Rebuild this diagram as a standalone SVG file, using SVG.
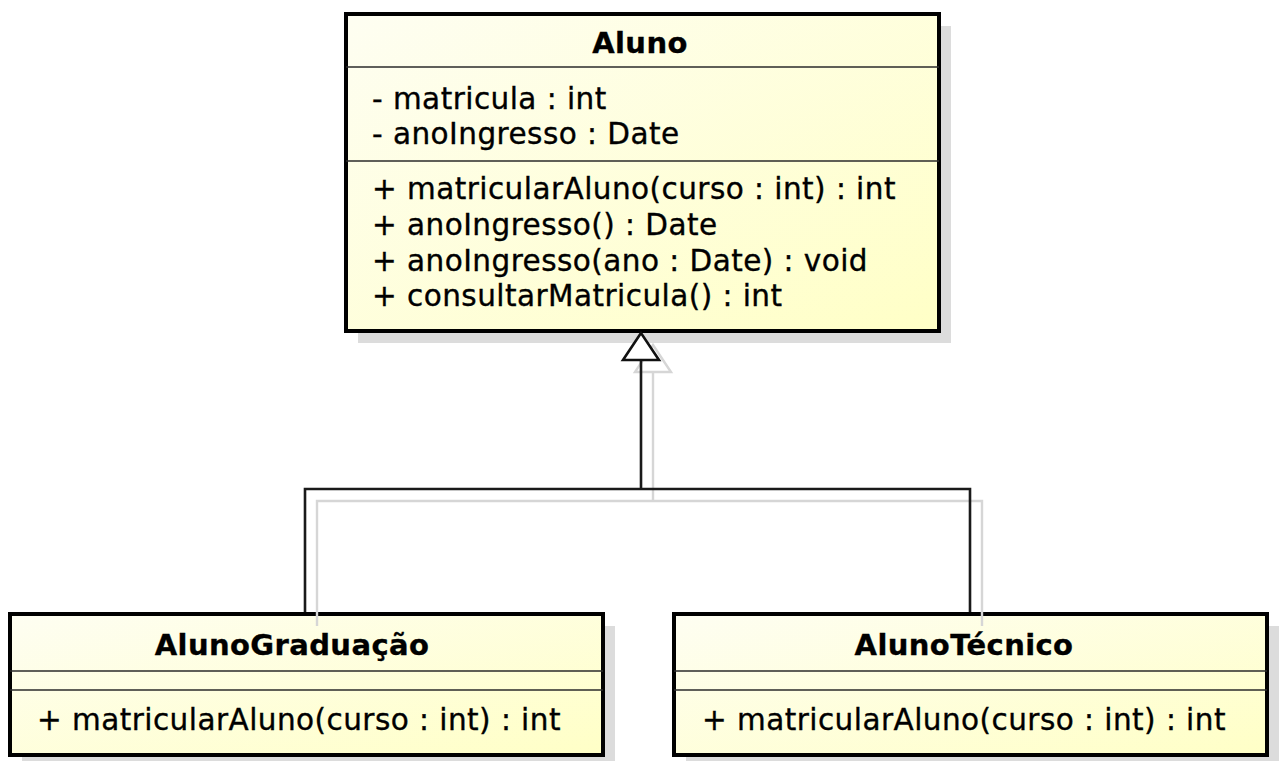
<svg xmlns="http://www.w3.org/2000/svg" width="1279" height="761" viewBox="0 0 1279 761">
  <defs>
    <linearGradient id="fill" x1="0" y1="0" x2="1" y2="1">
      <stop offset="0" stop-color="#fefef2"/>
      <stop offset="1" stop-color="#ffffc6"/>
    </linearGradient>
  </defs>
  <style>
    .shadow { fill: #dcdcdc; stroke: none; }
    .box { fill: url(#fill); stroke: #000; stroke-width: 4; }
    .div { stroke: #2a2a2a; stroke-width: 1.6; }
    .t { font-family: "DejaVu Sans", "Verdana", sans-serif; font-size: 29.5px; fill: #000; stroke: #000; stroke-width: 0.35; letter-spacing: 0.45px; }
    .h { font-weight: bold; text-anchor: middle; letter-spacing: 0.4px; font-size: 29px; }
    .conn { fill: none; stroke: #1a1a1a; stroke-width: 2.6; }
    .cshadow { fill: none; stroke: #d6d6d6; stroke-width: 2.4; }
    .arrow { fill: #fff; stroke: #111; stroke-width: 2.6; stroke-linejoin: miter; }
  </style>

  <g id="Aluno">
    <rect class="shadow" x="358" y="26" width="593" height="317"/>
    <rect class="box" x="346" y="14" width="593" height="317"/>
    <line class="div" x1="346" y1="67" x2="939" y2="67"/>
    <line class="div" x1="346" y1="161" x2="939" y2="161"/>
    <text class="t h" x="640" y="53">Aluno</text>
    <text class="t" x="372" y="109">- matricula : int</text>
    <text class="t" x="372" y="144">- anoIngresso : Date</text>
    <text class="t" x="372" y="199">+ matricularAluno(curso : int) : int</text>
    <text class="t" x="372" y="235">+ anoIngresso() : Date</text>
    <text class="t" x="372" y="271">+ anoIngresso(ano : Date) : void</text>
    <text class="t" x="372" y="306">+ consultarMatricula() : int</text>
  </g>

  <g id="AlunoGraduacao">
    <rect class="shadow" x="22" y="626" width="593" height="141"/>
    <rect class="box" x="10" y="614" width="593" height="141"/>
    <line class="div" x1="10" y1="671" x2="603" y2="671"/>
    <line class="div" x1="10" y1="690" x2="603" y2="690"/>
    <text class="t h" x="292" y="655">AlunoGraduação</text>
    <text class="t" x="37" y="730">+ matricularAluno(curso : int) : int</text>
  </g>

  <g id="AlunoTecnico">
    <rect class="shadow" x="686" y="626" width="593" height="141"/>
    <rect class="box" x="674" y="614" width="593" height="141"/>
    <line class="div" x1="674" y1="671" x2="1267" y2="671"/>
    <line class="div" x1="674" y1="690" x2="1267" y2="690"/>
    <text class="t h" x="964" y="655">AlunoTécnico</text>
    <text class="t" x="702" y="730">+ matricularAluno(curso : int) : int</text>
  </g>

  <g id="connectors">
    <path class="cshadow" d="M317,626 V501 H982 V626 M653,501 V372"/>
    <polygon class="cshadow" points="653,345 635,372 671,372"/>
    <path class="conn" d="M305,612 V489 H970 V612 M641,489 V360"/>
    <polygon class="arrow" points="641,333 623,360 659,360"/>
  </g>
</svg>
